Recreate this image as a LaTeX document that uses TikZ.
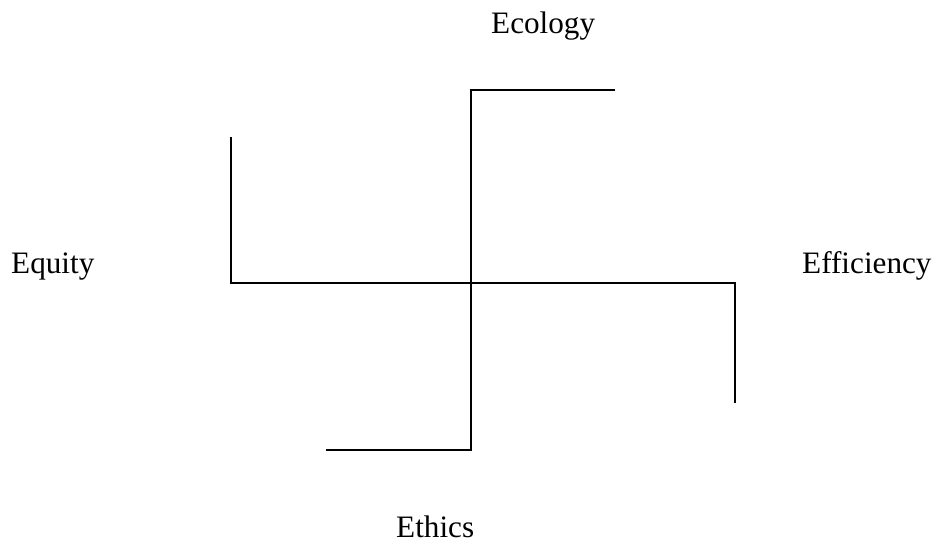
\documentclass[tikz,border=0pt]{standalone}
\usepackage{fontspec}
\setmainfont{Liberation Serif}
\begin{document}
\begin{tikzpicture}[x=1pt,y=-1pt,
  lbl/.style={font=\fontsize{31.2}{36}\selectfont, inner sep=0pt, anchor=base west},
  arm/.style={line width=2pt, line join=miter, black}]
\useasboundingbox (0,0) rectangle (936,541);
% labels
\node[lbl] (ecology) at (491,33) {Ecology};
\node[lbl] (equity) at (11,273) {Equity};
\node[lbl] (efficiency) at (802,273) {Efficiency};
\node[lbl] (ethics) at (396,537) {Ethics};
% key points
\coordinate (c) at (470.5,282.5);
\coordinate (top) at (470.5,90);
\coordinate (topend) at (615,90);
\coordinate (bot) at (470.5,450);
\coordinate (botend) at (326,450);
\coordinate (left) at (231,282.5);
\coordinate (leftend) at (231,137);
\coordinate (right) at (734.5,282.5);
\coordinate (rightend) at (734.5,403);
% arms
\draw[arm] (topend) -- (top) -- (c) -- (bot) -- (botend);
\draw[arm] (leftend) -- (left) -- (c) -- (right) -- (rightend);
\end{tikzpicture}
\end{document}
